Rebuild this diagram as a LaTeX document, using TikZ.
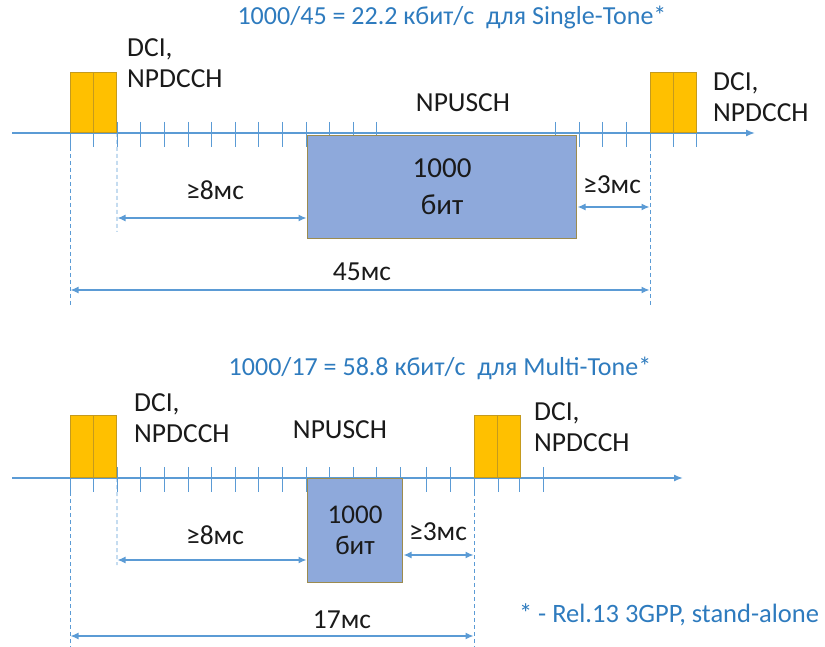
\documentclass[tikz,border=0pt]{standalone}
\usepackage{fontspec}
\setmainfont{Carlito}
\usetikzlibrary{arrows.meta,positioning,calc}
\definecolor{axisblue}{HTML}{5B9BD5}
\definecolor{textblue}{HTML}{2E7BBE}
\definecolor{gold}{HTML}{FFC000}
\definecolor{golddark}{HTML}{C49A1E}
\definecolor{payfill}{HTML}{8EA9DB}
\definecolor{payedge}{HTML}{9C8B4E}
\definecolor{ink}{HTML}{1A1A1A}
\tikzset{
  axisline/.style={-{Latex[length=9pt,width=7pt]},draw=axisblue,line width=1.4pt},
  tickmark/.style={draw=axisblue,line width=1pt},
  dci/.style={draw=golddark,fill=gold,line width=0.9pt,minimum width=23pt,minimum height=60pt,inner sep=0pt,anchor=south west},
  payload/.style={draw=payedge,fill=payfill,line width=1.1pt,inner sep=0pt,anchor=north west,text=ink,align=center},
  guide/.style={draw=axisblue,line width=0.8pt,dash pattern=on 4pt off 3pt},
  span/.style={{Latex[length=8pt,width=7pt]}-{Latex[length=8pt,width=7pt]},draw=axisblue,line width=1.2pt,shorten <=0.5pt,shorten >=0.5pt},
  lbl/.style={font=\fontsize{27.5}{31}\selectfont,text=ink,inner sep=0pt},
  chan/.style={lbl,align=left,anchor=north west},
  rate/.style={font=\fontsize{26}{30}\selectfont,text=textblue,inner sep=0pt}
}
\begin{document}
\begin{tikzpicture}[x=1pt,y=-1pt]
\useasboundingbox (0,0) rectangle (825,647);

% ---- Single-Tone ----
\node[rate] (rate1) at (452,18) {1000/45 = 22.2 кбит/с \ для Single-Tone*};
\coordinate (ax1s) at (12,133);
\coordinate (ax1e) at (755,133);
\draw[axisline] (ax1s) -- (ax1e);
\foreach \k in {0,...,13} \draw[tickmark] ({70+23.6*\k},122) -- ({70+23.6*\k},147);
\foreach \x in {555,579,602,626,650,673,696} \draw[tickmark] (\x,122) -- (\x,147);
\node[dci] (dci1a) at (70,133) {};
\node[dci] (dci1b) at (93,133) {};
\node[dci] (dci1c) at (650,133) {};
\node[dci] (dci1d) at (673,133) {};
\node[payload,minimum width=269pt,minimum height=103pt,font=\fontsize{29}{34}\selectfont] (bits1) at (307,135) {1000\\[3pt]бит};
\node[chan] (lab1a) at (127,38) {DCI,\\NPDCCH};
\node[chan] (lab1b) at (713,72) {DCI,\\NPDCCH};
\node[lbl] (pus1) at (463,103) {NPUSCH};

\coordinate (g1a) at (70,305);
\coordinate (g1b) at (117,232);
\coordinate (g1c) at (650,305);
\draw[guide] (dci1a.south west) -- (g1a);
\draw[guide] (dci1b.south east) -- (g1b);
\draw[guide] (dci1c.south west) -- (g1c);

\draw[span] (g1b |- 0,218) -- (bits1.west |- 0,218);
\node[lbl] (gap1a) at (215,190) {≥8мс};
\draw[span] (bits1.east |- 0,207) -- (g1c |- 0,207);
\node[lbl] (gap1b) at (612,185) {≥3мс};
\draw[span] (g1a |- 0,290) -- (g1c |- 0,290);
\node[lbl] (tot1) at (362,272) {45мс};

% ---- Multi-Tone ----
\node[rate] (rate2) at (440,368) {1000/17 = 58.8 кбит/с \ для Multi-Tone*};
\coordinate (ax2s) at (12,478);
\coordinate (ax2e) at (683,478);
\draw[axisline] (ax2s) -- (ax2e);
\foreach \k in {0,...,14} \draw[tickmark] ({70+23.6*\k},467) -- ({70+23.6*\k},492);
\foreach \x in {426,450,474,498,519,543} \draw[tickmark] (\x,467) -- (\x,492);
\node[dci,minimum height=62pt] (dci2a) at (70,478) {};
\node[dci,minimum height=62pt] (dci2b) at (93,478) {};
\node[dci,minimum height=62pt] (dci2c) at (474,478) {};
\node[dci,minimum height=62pt] (dci2d) at (497,478) {};
\node[payload,minimum width=95pt,minimum height=104pt,font=\fontsize{27}{31}\selectfont] (bits2) at (307,478) {1000\\бит};
\node[chan] (lab2a) at (134,393) {DCI,\\NPDCCH};
\node[chan] (lab2b) at (534,402) {DCI,\\NPDCCH};
\node[lbl] (pus2) at (340,430) {NPUSCH};

\coordinate (g2a) at (70,647);
\coordinate (g2b) at (117,565);
\coordinate (g2c) at (474,647);
\draw[guide] (dci2a.south west) -- (g2a);
\draw[guide] (dci2b.south east) -- (g2b);
\draw[guide] (dci2c.south west) -- (g2c);

\draw[span] (g2b |- 0,560) -- (bits2.west |- 0,560);
\node[lbl] (gap2a) at (215,535) {≥8мс};
\draw[span] (bits2.east |- 0,555) -- (g2c |- 0,555);
\node[lbl] (gap2b) at (438,532) {≥3мс};
\draw[span] (g2a |- 0,636) -- (g2c |- 0,636);
\node[lbl] (tot2) at (342,620) {17мс};

\node[rate,font=\fontsize{26.5}{30}\selectfont] (note) at (669,615) {* - Rel.13 3GPP, stand-alone};
\end{tikzpicture}
\end{document}
